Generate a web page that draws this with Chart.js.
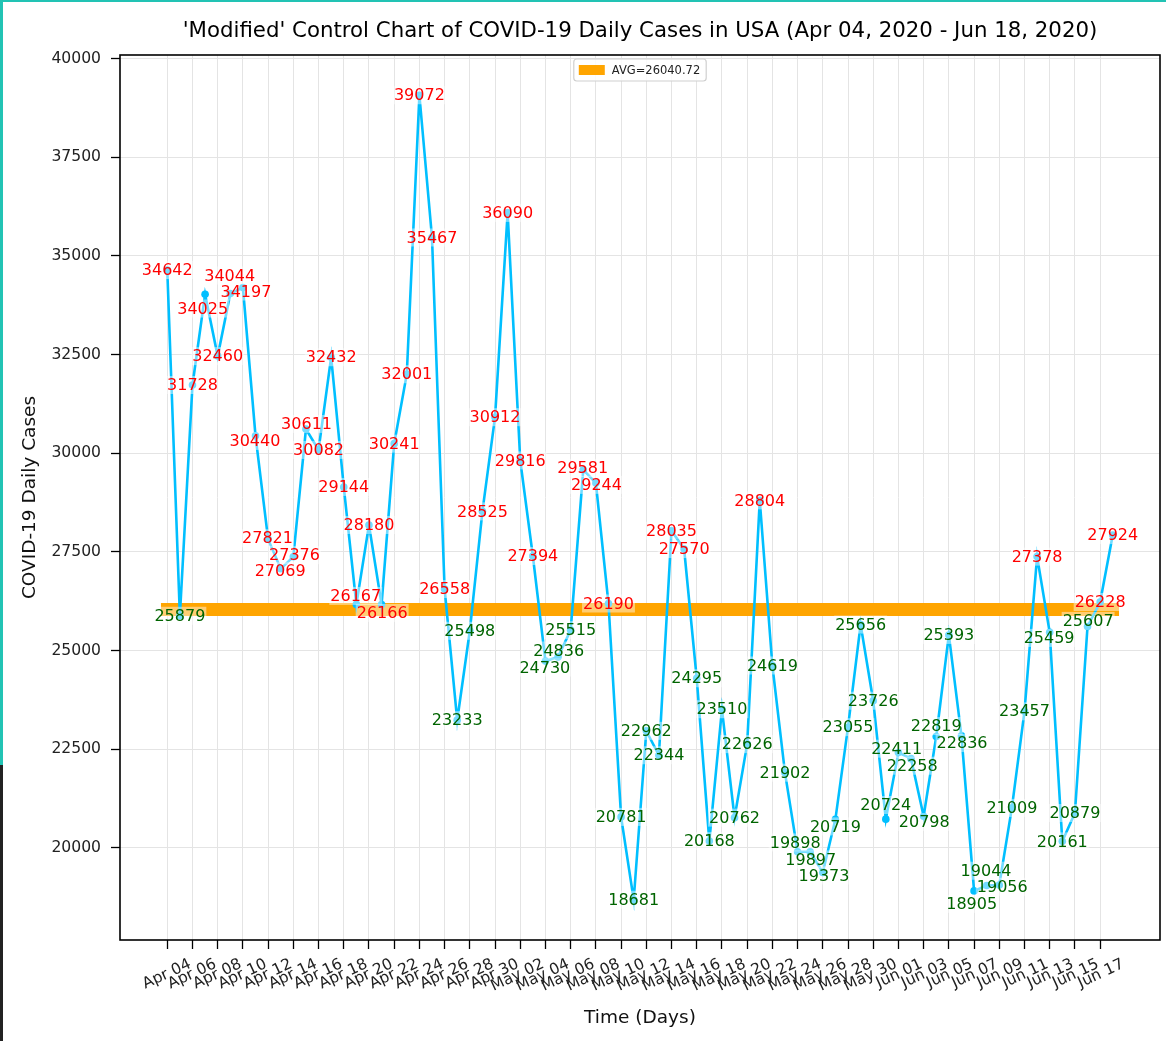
<!DOCTYPE html>
<html>
<head>
<meta charset="utf-8">
<script src="https://cdn.jsdelivr.net/npm/chart.js@4.4.0/dist/chart.umd.min.js"></script>
<style>
  html, body { margin: 0; padding: 0; background: #fff; }
  #wrap { position: relative; width: 1166px; height: 1041px; }
  .edge { position: absolute; }
</style>
</head>
<body>
<div id="wrap">
  <canvas id="myChart" width="1166" height="1041"></canvas>
  <div class="edge" style="left:0;top:0;width:1166px;height:2px;background:#22c3b4"></div>
  <div class="edge" style="left:0;top:0;width:3px;height:765px;background:#22c3b4"></div>
  <div class="edge" style="left:0;top:765px;width:3px;height:276px;background:#222"></div>
</div>
<script>
// daily cases, Apr 04 2020 -> Jun 18 2020
const dates = [
  'Apr 04', 'Apr 05', 'Apr 06', 'Apr 07', 'Apr 08', 'Apr 09', 'Apr 10', 'Apr 11', 'Apr 12', 'Apr 13',
  'Apr 14', 'Apr 15', 'Apr 16', 'Apr 17', 'Apr 18', 'Apr 19', 'Apr 20', 'Apr 21', 'Apr 22', 'Apr 23',
  'Apr 24', 'Apr 25', 'Apr 26', 'Apr 27', 'Apr 28', 'Apr 29', 'Apr 30', 'May 01', 'May 02', 'May 03',
  'May 04', 'May 05', 'May 06', 'May 07', 'May 08', 'May 09', 'May 10', 'May 11', 'May 12', 'May 13',
  'May 14', 'May 15', 'May 16', 'May 17', 'May 18', 'May 19', 'May 20', 'May 21', 'May 22', 'May 23',
  'May 24', 'May 25', 'May 26', 'May 27', 'May 28', 'May 29', 'May 30', 'May 31', 'Jun 01', 'Jun 02',
  'Jun 03', 'Jun 04', 'Jun 05', 'Jun 06', 'Jun 07', 'Jun 08', 'Jun 09', 'Jun 10', 'Jun 11', 'Jun 12',
  'Jun 13', 'Jun 14', 'Jun 15', 'Jun 16', 'Jun 17', 'Jun 18'
];

const dailyCases = [
  34642, 25879, 31728, 34025, 32460, 34044, 34197, 30440, 27821, 27069,
  27376, 30611, 30082, 32432, 29144, 26167, 28180, 26166, 30241, 32001,
  39072, 35467, 26558, 23233, 25498, 28525, 30912, 36090, 29816, 27394,
  24730, 24836, 25515, 29581, 29244, 26190, 20781, 18681, 22962, 22344,
  28035, 27570, 24295, 20168, 23510, 20762, 22626, 28804, 24619, 21902,
  19898, 19897, 19373, 20719, 23055, 25656, 23726, 20724, 22411, 22258,
  20798, 22819, 25393, 22836, 18905, 19044, 19056, 21009, 23457, 27378,
  25459, 20161, 20879, 25607, 26228, 27924
];

const avgCases = 26040.72;
const yTicks = [20000, 22500, 25000, 27500, 30000, 32500, 35000, 37500, 40000];

const titleText = "'Modified' Control Chart of COVID-19 Daily Cases in USA (Apr 04, 2020 - Jun 18, 2020)";
const FONT = '"DejaVu Sans", sans-serif';

// value labels, red above the average, green below
const valueLabels = {
  id: 'valueLabels',
  afterDatasetsDraw(chart) {
    const ctx = chart.ctx;
    const meta = chart.getDatasetMeta(0);
    ctx.save();
    ctx.font = '16px ' + FONT;
    ctx.textAlign = 'center';
    ctx.textBaseline = 'middle';
    const boxes = meta.data.map((pt, i) => {
      const txt = String(dailyCases[i]);
      const w = ctx.measureText(txt).width;
      return { txt, x: pt.x, y: pt.y, w: w + 2, h: 16, up: dailyCases[i] > avgCases };
    });
    // push overlapping labels apart a little
    for (let it = 0; it < 80; it++) {
      let moved = false;
      for (let a = 0; a < boxes.length; a++) {
        for (let b = a + 1; b < boxes.length; b++) {
          const A = boxes[a], B = boxes[b];
          const ox = (A.w + B.w) / 2 - Math.abs(A.x - B.x);
          const oy = (A.h + B.h) / 2 - Math.abs(A.y - B.y);
          if (ox > 0 && oy > 0) {
            const s = A.y <= B.y ? -1 : 1;
            A.y += s * oy / 2 + s * 0.5;
            B.y -= s * oy / 2 + s * 0.5;
            const sx = A.x <= B.x ? -1 : 1;
            A.x += sx * 0.6;
            B.x -= sx * 0.6;
            moved = true;
          }
        }
      }
      if (!moved) break;
    }
    boxes.forEach(bx => {
      ctx.fillStyle = 'rgba(255,255,255,0.45)';
      ctx.fillRect(bx.x - bx.w / 2, bx.y - 9, bx.w, 18);
      ctx.fillStyle = bx.up ? '#ff0000' : '#006400';
      ctx.fillText(bx.txt, bx.x, bx.y + 1);
    });
    ctx.restore();
  }
};

const frameAndTitle = {
  id: 'frameAndTitle',
  afterDraw(chart) {
    const ctx = chart.ctx;
    const a = chart.chartArea;
    ctx.save();
    ctx.strokeStyle = '#000';
    ctx.lineWidth = 1.6;
    ctx.strokeRect(a.left, a.top, a.right - a.left, a.bottom - a.top);

    ctx.fillStyle = '#000';
    ctx.font = '21.3px ' + FONT;
    ctx.textAlign = 'center';
    ctx.textBaseline = 'middle';
    ctx.fillText(titleText, (a.left + a.right) / 2, 31);

    // legend box
    const label = 'AVG=' + avgCases.toFixed(2);
    ctx.font = '11.5px ' + FONT;
    const tw = ctx.measureText(label).width;
    const bw = tw + 44, bh = 22;
    const bx = (a.left + a.right) / 2 - bw / 2, by = a.top + 4;
    ctx.fillStyle = 'rgba(255,255,255,0.85)';
    ctx.strokeStyle = '#d0d0d0';
    ctx.lineWidth = 1.2;
    ctx.beginPath();
    ctx.roundRect(bx, by, bw, bh, 3);
    ctx.fill();
    ctx.stroke();
    ctx.fillStyle = 'orange';
    ctx.fillRect(bx + 5, by + 6, 26, 10);
    ctx.fillStyle = '#222';
    ctx.textAlign = 'left';
    ctx.fillText(label, bx + 38, by + bh / 2 + 1);
    ctx.restore();
  }
};

const ctx = document.getElementById('myChart');
const myChart = new Chart(ctx, {
  type: 'line',
  data: {
    datasets: [
      {
        label: 'Daily cases',
        data: dailyCases.map((v, i) => ({ x: i, y: v })),
        borderColor: '#00bfff',
        backgroundColor: '#00bfff',
        borderWidth: 2.6,
        pointRadius: 3.8,
        pointHoverRadius: 3.8,
        pointBorderWidth: 0,
        tension: 0,
        order: 1
      },
      {
        label: 'AVG=' + avgCases.toFixed(2),
        data: [{ x: -0.5, y: avgCases }, { x: dates.length - 0.5, y: avgCases }],
        borderColor: 'orange',
        backgroundColor: 'orange',
        borderWidth: 13,
        borderCapStyle: 'butt',
        pointRadius: 0,
        order: 2
      }
    ]
  },
  options: {
    responsive: false,
    animation: false,
    devicePixelRatio: 1,
    layout: { padding: { top: 55, right: 6, left: 0, bottom: 0 } },
    plugins: {
      legend: { display: false },
      tooltip: { enabled: false },
      title: { display: false }
    },
    scales: {
      x: {
        type: 'linear',
        min: -3.75,
        max: 78.75,
        afterBuildTicks: s => {
          s.ticks = dates.map((d, i) => ({ value: i })).filter(t => t.value % 2 === 0);
        },
        afterFit: s => { s.height = 101; },
        ticks: {
          autoSkip: false,
          minRotation: 25,
          maxRotation: 25,
          labelOffset: 23,
          padding: 6,
          color: '#222',
          font: { family: FONT, size: 15.5 },
          callback: v => dates[v]
        },
        grid: { color: '#e4e4e4', lineWidth: 1, tickColor: '#000', tickLength: 9, tickWidth: 1.3 },
        border: { display: false },
        title: {
          display: true,
          text: 'Time (Days)',
          color: '#111',
          font: { family: FONT, size: 18.5 },
          padding: { bottom: 12 }
        }
      },
      y: {
        min: 17661,
        max: 40092,
        afterBuildTicks: s => { s.ticks = yTicks.map(v => ({ value: v })); },
        afterFit: s => { s.width = 120; },
        ticks: {
          padding: 10,
          color: '#222',
          font: { family: FONT, size: 15.6 },
          callback: v => String(v)
        },
        grid: { color: '#e4e4e4', lineWidth: 1, tickColor: '#000', tickLength: 9, tickWidth: 1.3 },
        border: { display: false },
        title: {
          display: true,
          text: 'COVID-19 Daily Cases',
          color: '#111',
          font: { family: FONT, size: 18.5 },
          padding: { top: 19 }
        }
      }
    }
  },
  plugins: [valueLabels, frameAndTitle]
});
</script>
</body>
</html>
